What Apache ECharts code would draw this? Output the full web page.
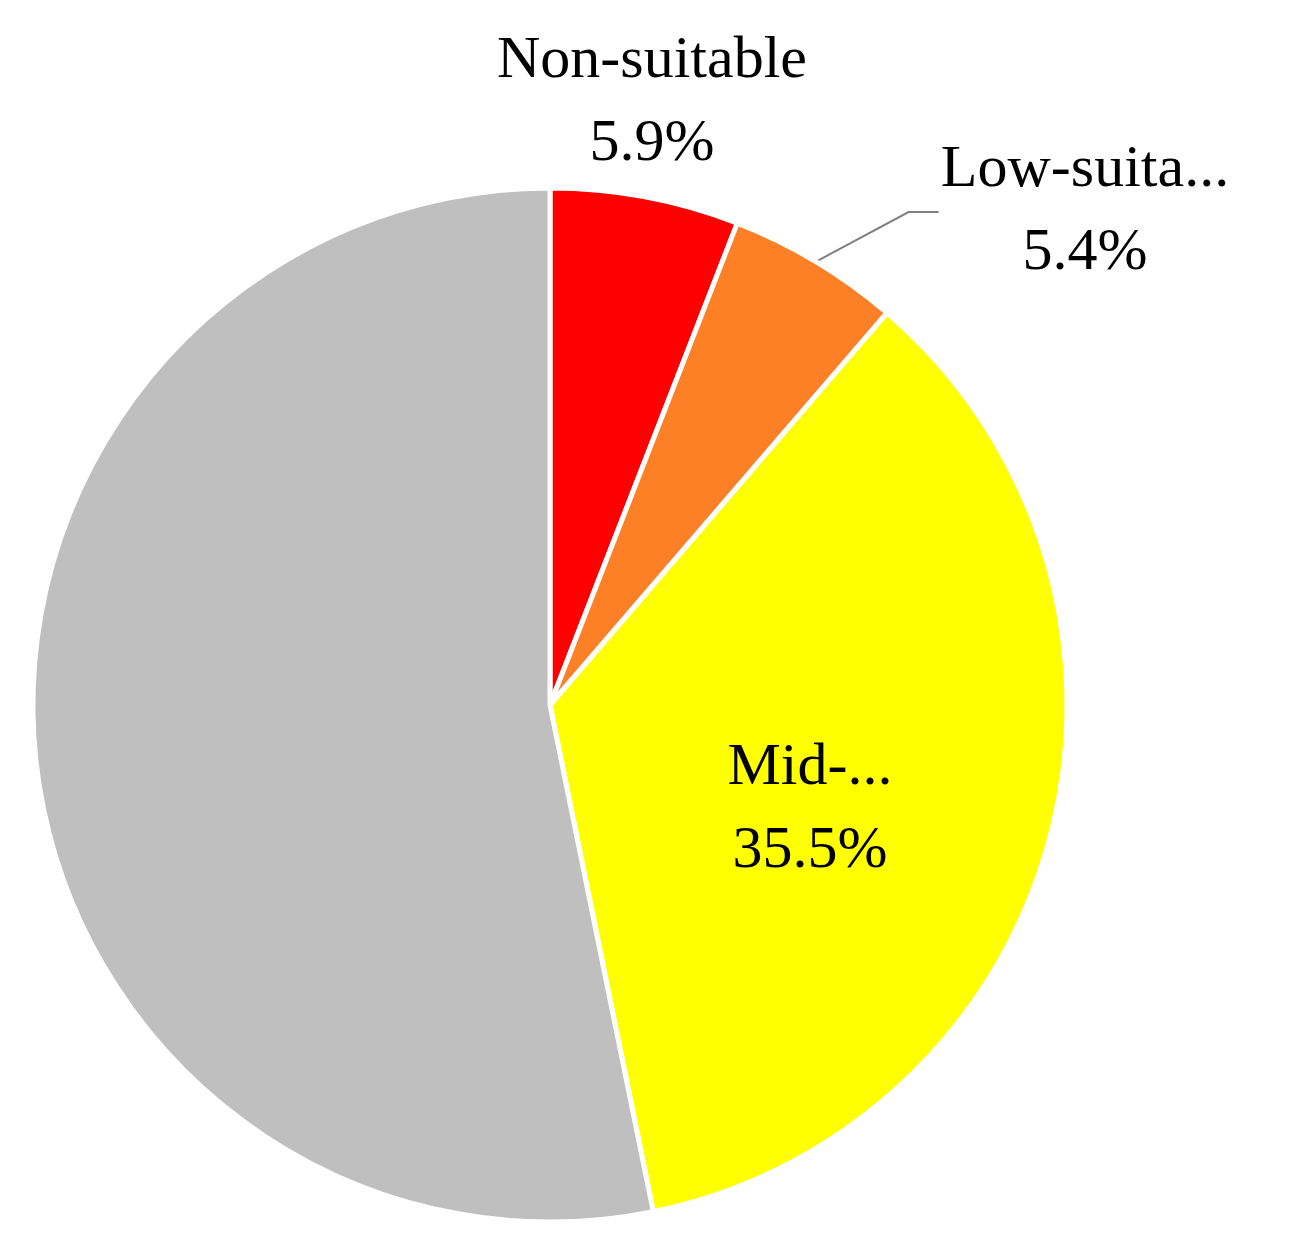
<!DOCTYPE html>
<html>
<head>
<meta charset="utf-8">
<script src="https://cdn.jsdelivr.net/npm/echarts@6/dist/echarts.min.js"></script>
<style>html,body{margin:0;background:#fff}#chart{width:1291px;height:1251px}</style>
</head>
<body>
<div id="chart"></div>
<script>
var categories = ['Non-suitable', 'Low-suitable', 'Mid-suitable', 'High-suitable'];
var labelNames = ['Non-suitable', 'Low-suitable', 'Mid-suitable', 'High-\nsuitable'];
var values = [5.9, 5.4, 35.5, 53.2];
var colors = ['#ff0000', '#fd7f26', '#ffff00', '#bfbfbf'];
// label centres in px
var labelPos = [[652, 103], [1085, 212], [810, 810], [165, 838]];

var chart = echarts.init(document.getElementById('chart'));
chart.setOption({
  animation: false,
  series: [{
    type: 'pie',
    center: [550, 705],
    radius: 517,
    startAngle: 90,
    clockwise: true,
    itemStyle: { borderColor: '#fff', borderWidth: 5 },
    label: {
      fontFamily: 'Liberation Serif',
      fontSize: 60,
      lineHeight: 83,
      color: '#000',
      align: 'center',
      formatter: function (p) { return labelNames[p.dataIndex] + '\n' + p.value + '%'; }
    },
    labelLine: { show: false },
    labelLayout: function (p) {
      return { x: labelPos[p.dataIndex][0], y: labelPos[p.dataIndex][1], align: 'center', verticalAlign: 'middle' };
    },
    data: categories.map(function (c, i) {
      var d = { name: c, value: values[i], itemStyle: { color: colors[i] } };
      if (i === 1) d.labelLine = { show: true, length: 30, length2: 30, lineStyle: { color: '#808080', width: 2 } };
      return d;
    })
  }]
});
</script>
</body>
</html>
